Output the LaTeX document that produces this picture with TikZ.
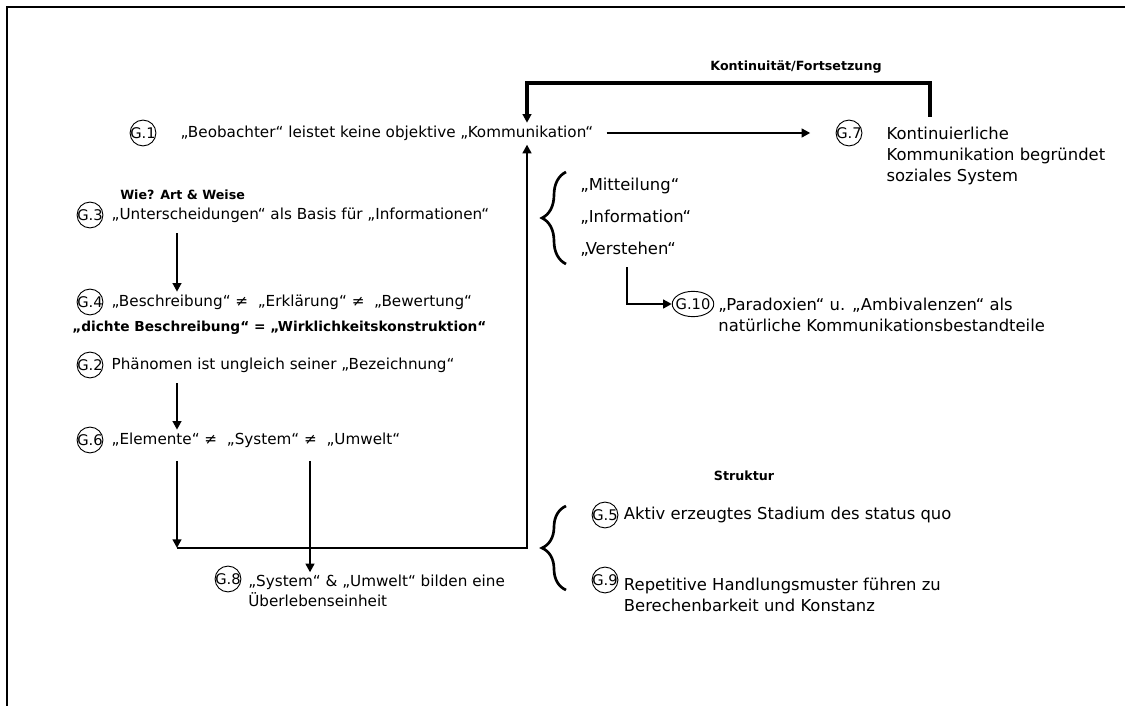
\documentclass[tikz,border=0pt]{standalone}
\usepackage{fontspec}
\setmainfont{DejaVu Sans}
\usetikzlibrary{arrows.meta,positioning,shapes.geometric,decorations.pathreplacing}
\tikzset{
	gnum/.style={draw,circle,inner sep=-0.5pt,line width=0.7pt,font=\fontsize{11}{13}\selectfont},
	gwide/.style={draw,ellipse,inner sep=-2pt,minimum height=19pt,line width=0.7pt,font=\fontsize{11}{13}\selectfont},
	txt/.style={inner sep=0pt,align=left,font=\fontsize{11.4}{15}\selectfont},
	rtxt/.style={inner sep=0pt,align=left,font=\fontsize{12.3}{16}\selectfont},
	hint/.style={inner sep=0pt,font=\bfseries\fontsize{9.5}{11}\selectfont},
	arr/.style={line width=2pt,-{Triangle[length=6.5pt,width=6.5pt]}},
	bigarr/.style={line width=2.6pt,-{Triangle[length=6.5pt,width=6.5pt]}},
	klammer/.style={decorate,decoration={brace,amplitude=18pt},line width=2pt},
	frame/.style={line width=2pt}
}
\begin{document}
\begin{tikzpicture}[x=0.75pt,y=-0.75pt]
	\useasboundingbox (0,0) rectangle (1125,706);
	\draw[frame] (7,706)--(7,7)--(1125,7);
		\coordinate (j1) at (177,548);
		\coordinate (j2) at (527,548);
		\coordinate (s1) at (310,548);
		\coordinate (k1) at (930,117);
		\coordinate (k2) at (527,83);
		\coordinate (l1) at (627,304);
	\node[gnum] (g1) at (143,133) {G.1};
	\node[txt,right=18pt of g1] (t1) {„Beobachter“ leistet keine objektive „Kommunikation“};
	\node[gnum] (g7) at (849,133) {G.7};
	\node[rtxt,anchor=north west] (t7) at ([xshift=18pt,yshift=4.9pt]g7.east) {Kontinuierliche\\Kommunikation begründet\\soziales System};
	\node[hint] (kont) at (796,67) {Kontinuität/Fortsetzung};
	\node[hint,anchor=west] (wie) at (120,195) {Wie? Art \& Weise};
	\node[gnum] (g3) at (90,215) {G.3};
	\node[txt,right=6pt of g3] (t3) {„Unterscheidungen“ als Basis für „Informationen“};
	\node[gnum] (g4) at (90,302) {G.4};
	\node[txt,right=6pt of g4] (t4) {„Beschreibung“ ≠\ \ „Erklärung“ ≠\ \ „Bewertung“};
	\node[hint,anchor=west,font=\bfseries\fontsize{10.3}{12}\selectfont] (dichte) at (72,328) {„dichte Beschreibung“ = „Wirklichkeitskonstruktion“};
	\node[gnum] (g2) at (90,365) {G.2};
	\node[txt,right=6pt of g2] (t2) {Phänomen ist ungleich seiner „Bezeichnung“};
	\node[gnum] (g6) at (90,440) {G.6};
	\node[txt,right=6pt of g6] (t6) {„Elemente“ ≠\ \ „System“ ≠\ \ „Umwelt“};
	\node[gnum] (g8) at (228,579) {G.8};
	\node[txt,anchor=north west] (t8) at ([xshift=5pt,yshift=3pt]g8.east) {„System“ \& „Umwelt“ bilden eine\\Überlebenseinheit};
	\node[rtxt,anchor=west] (tm) at (580,186) {„Mitteilung“};
	\node[rtxt,anchor=west] (ti) at (580,217) {„Information“};
	\node[rtxt,anchor=west] (tv) at (580,249) {„Verstehen“};
	\node[gwide] (g10) at (693,304) {G.10};
	\node[rtxt,anchor=north west] (t10) at ([xshift=3pt,yshift=4.9pt]g10.east) {„Paradoxien“ u. „Ambivalenzen“ als\\natürliche Kommunikationsbestandteile};
	\node[hint] (struk) at (744,476) {Struktur};
	\node[gnum] (g5) at (605,515) {G.5};
	\node[rtxt,right=4pt of g5] (t5) {Aktiv erzeugtes Stadium des status quo};
	\node[gnum] (g9) at (605,580) {G.9};
	\node[rtxt,anchor=north west] (t9) at ([xshift=4pt,yshift=2pt]g9.east) {Repetitive Handlungsmuster führen zu\\Berechenbarkeit und Konstanz};
		\draw[arr,shorten >=19pt,shorten <=10pt] (t1.east)--(g7.west);
		\draw[bigarr,shorten >=2pt] (k1)--(k1 |- k2)--(k2)--(t1.north -| k2);
		\draw[arr,shorten <=8pt,shorten >=2pt] (t3.south -| j1)--(t4.north -| j1);
		\draw[arr,shorten <=8pt,shorten >=2pt] (t2.south -| j1)--(t6.north -| j1);
		\draw[arr,shorten <=10pt] (t6.south -| j1)--(j1);
		\draw[arr,shorten <=10pt,shorten >=2pt] (t6.south -| s1)--(t8.north -| s1);
		\draw[arr,shorten >=3pt] (j1)--(j2)--(t1.south -| j2);
		\draw[arr,shorten <=8pt] (tv.south -| l1)--(l1)--(g10.west);
		\draw[klammer] (566,264)--(566,172);
		\draw[klammer] (566,590)--(566,506);
\end{tikzpicture}
\end{document}
